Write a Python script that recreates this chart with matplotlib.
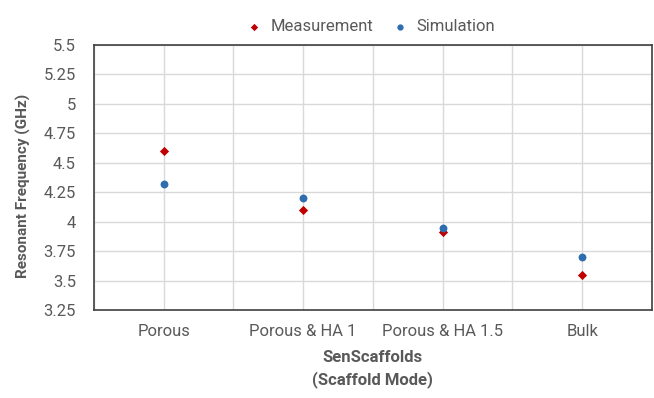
import matplotlib.pyplot as plt
from matplotlib.ticker import MultipleLocator

# Data
categories = ['Porous', 'Porous & HA 1', 'Porous & HA 1.5', 'Bulk']
measurement = [4.60, 4.10, 3.91, 3.55]
simulation = [4.32, 4.20, 3.95, 3.70]
y_ticks = [3.25, 3.5, 3.75, 4, 4.25, 4.5, 4.75, 5, 5.25, 5.5]
y_tick_labels = ['3.25', '3.5', '3.75', '4', '4.25', '4.5', '4.75', '5', '5.25', '5.5']

plt.rcParams['font.family'] = ['Roboto', 'DejaVu Sans']
text_color = '#595959'

fig = plt.figure(figsize=(6.54, 3.98), dpi=100)
ax = fig.add_axes([0.1437, 0.221, 0.853, 0.666])

x_pos = [1 + 2 * i for i in range(len(categories))]

ax.scatter(x_pos, measurement, marker='D', s=22, color='#C00000', zorder=3, label='Measurement', linewidths=0)
ax.scatter(x_pos, simulation, marker='o', s=32, color='#2E6DB0', zorder=3, label='Simulation', linewidths=0)

ax.set_xlim(0, 8)
ax.set_ylim(3.25, 5.5)
ax.set_xticks(x_pos)
ax.set_xticklabels(categories, color=text_color, fontsize=12)
ax.xaxis.set_minor_locator(MultipleLocator(1))
ax.set_yticks(y_ticks)
ax.set_yticklabels(y_tick_labels, color=text_color, fontsize=12)

ax.grid(True, which='both', color='#D9D9D9', linewidth=1)
ax.set_axisbelow(True)
ax.tick_params(which='both', length=0)
ax.tick_params(axis='y', pad=13)
ax.tick_params(axis='x', pad=10)
for spine in ax.spines.values():
    spine.set_color('#404040')
    spine.set_linewidth(1.2)

ax.set_ylabel('Resonant Frequency (GHz)', fontsize=11, weight='bold', color=text_color)
ax.yaxis.set_label_coords(-0.112, 0.47)
ax.set_xlabel('SenScaffolds\n(Scaffold Mode)', fontsize=12, weight='bold', color=text_color,
              labelpad=8, linespacing=1.45)

leg = fig.legend(loc='upper center', bbox_to_anchor=(0.56, 0.99), ncol=2, frameon=False,
                 fontsize=12, handletextpad=0.0, columnspacing=0.6, markerscale=0.8)
for t in leg.get_texts():
    t.set_color(text_color)

plt.savefig('out.png', dpi=100)
